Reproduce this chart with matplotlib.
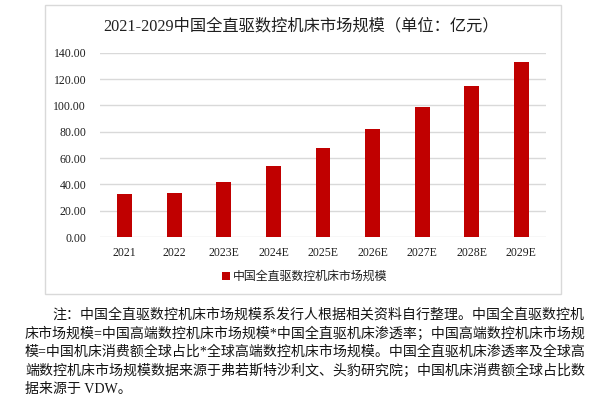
import matplotlib
matplotlib.use("Agg")
import matplotlib.pyplot as plt
from matplotlib.patches import Rectangle

plt.rcParams['font.family'] = ['Liberation Serif', 'Noto Sans CJK SC', 'DejaVu Sans']

categories = ["2021", "2022", "2023E", "2024E", "2025E", "2026E", "2027E", "2028E", "2029E"]
values = [33.0, 33.5, 42.1, 54.3, 67.5, 82.4, 98.4, 114.4, 132.6]
series_name = "中国全直驱数控机床市场规模"
title = "2021-2029中国全直驱数控机床市场规模（单位：亿元）"
yticks = [0, 20, 40, 60, 80, 100, 120, 140]
notes = [
    "注：中国全直驱数控机床市场规模系发行人根据相关资料自行整理。中国全直驱数控机",
    "床市场规模=中国高端数控机床市场规模*中国全直驱机床渗透率；中国高端数控机床市场规",
    "模=中国机床消费额全球占比*全球高端数控机床市场规模。中国全直驱机床渗透率及全球高",
    "端数控机床市场规模数据来源于弗若斯特沙利文、头豹研究院；中国机床消费额全球占比数",
    "据来源于 VDW。",
]

W, H = 600, 400
fig = plt.figure(figsize=(6, 4), dpi=100)
fig.patch.set_facecolor("white")

# chart frame
fig.patches.append(Rectangle((45 / W, 1 - 294 / H), 516 / W, 289 / H,
                             transform=fig.transFigure, fill=False,
                             edgecolor="#D9D9D9", linewidth=1.0))

ax = fig.add_axes([100 / W, 1 - 237 / H, 446 / W, (237 - 52.7) / H])
x = range(len(categories))
bars = ax.bar(x, values, width=0.3, color="#C00000", label=series_name, zorder=3)
ax.set_xlim(-0.5, len(categories) - 0.5)
ax.set_ylim(0, 140)
ax.set_yticks(yticks)
ax.set_yticklabels([f"{v:.2f}" for v in yticks], fontsize=8.5, color="#1f1f1f")
ax.set_xticks(list(x))
ax.set_xticklabels(categories, fontsize=8.5, color="#1f1f1f")
ax.tick_params(axis="both", length=0)
ax.tick_params(axis="y", pad=10)
ax.tick_params(axis="x", pad=7)
for s in ax.spines.values():
    s.set_visible(False)
ax.grid(axis="y", color="#D9D9D9", linewidth=1.0, zorder=0)
ax.set_axisbelow(True)

fig.text(301 / W, 1 - 26 / H, title, ha="center", va="center",
         fontsize=11.7, color="#1f1f1f")

fig.legend(handles=[bars], labels=[series_name], loc="center",
           bbox_to_anchor=(305 / W, 1 - 277 / H), frameon=False,
           fontsize=8.6, handlelength=0.6, handleheight=0.6,
           handletextpad=0.3, labelcolor="#1f1f1f")

line_y = [315, 333.5, 352, 370.5, 389]
for i, (t, yy) in enumerate(zip(notes, line_y)):
    x0 = 52 if i == 0 else 25
    fig.text(x0 / W, 1 - yy / H, t, ha="left", va="center",
             fontsize=10.05, color="#141414")

fig.savefig("out.png", dpi=100)
